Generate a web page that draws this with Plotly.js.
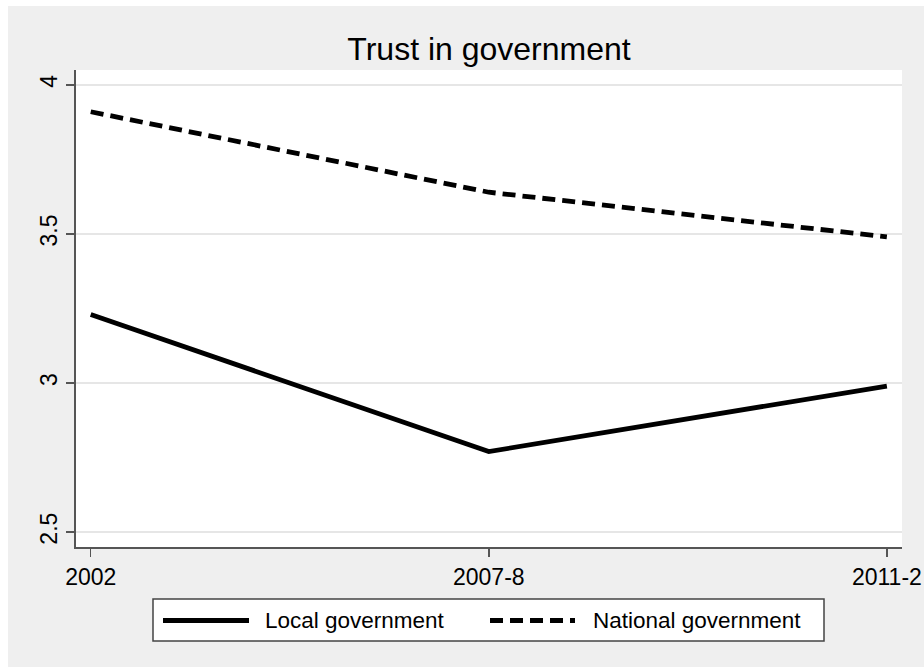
<!DOCTYPE html>
<html>
<head>
<meta charset="utf-8">
<script src="https://cdn.plot.ly/plotly-3.0.1.min.js"></script>
<style>html,body{margin:0;padding:0;background:#fff;}#chart{width:924px;height:671px;}</style>
</head>
<body>
<div id="chart"></div>
<script>
// ---- data ----
const periods = ["2002", "2007-8", "2011-2"];
const localGov = [3.23, 2.77, 2.99];
const nationalGov = [3.91, 3.64, 3.49];
const seriesNames = ["Local government", "National government"];
const yTickVals = [2.5, 3, 3.5, 4];
const yTickText = ["2.5", "3", "3.5", "4"];
const chartTitle = "Trust in government";

// ---- layout geometry (pixels) ----
const W = 924, H = 671;
const L = 76, R = 902, T = 70, B = 547;
const px2x = p => (p - L) / (R - L);
const px2y = p => (B - p) / (B - T);
const FONT = "Liberation Sans, Arial, Helvetica, sans-serif";
const DASH = "13px,7px";
const LW = 4.8;

const traces = [
  {x: periods, y: localGov, name: seriesNames[0], type: "scatter", mode: "lines",
   line: {color: "#000", width: LW, dash: "solid"}, showlegend: false},
  {x: periods, y: nationalGov, name: seriesNames[1], type: "scatter", mode: "lines",
   line: {color: "#000", width: LW, dash: DASH}, showlegend: false}
];

const legY = 620.5;
const shapes = [
  // white outer strips
  {type: "rect", xref: "paper", yref: "paper", layer: "below", x0: px2x(-5), x1: px2x(8), y0: px2y(-5), y1: px2y(H + 5), fillcolor: "#fff", line: {width: 0}},
  {type: "rect", xref: "paper", yref: "paper", layer: "below", x0: px2x(-5), x1: px2x(W + 5), y0: px2y(-5), y1: px2y(6), fillcolor: "#fff", line: {width: 0}},
  {type: "rect", xref: "paper", yref: "paper", layer: "below", x0: px2x(-5), x1: px2x(W + 5), y0: px2y(667), y1: px2y(H + 5), fillcolor: "#fff", line: {width: 0}},
  // legend box
  {type: "rect", xref: "paper", yref: "paper", x0: px2x(153), x1: px2x(824), y0: px2y(641), y1: px2y(599), fillcolor: "#fff", line: {color: "#444", width: 1.5}},
  // legend samples
  {type: "line", xref: "paper", yref: "paper", x0: px2x(163), x1: px2x(249), y0: px2y(legY), y1: px2y(legY), line: {color: "#000", width: LW}},
  {type: "line", xref: "paper", yref: "paper", x0: px2x(490), x1: px2x(575), y0: px2y(legY), y1: px2y(legY), line: {color: "#000", width: LW, dash: DASH}}
];

const annotations = [
  {text: seriesNames[0], xref: "paper", yref: "paper", x: px2x(263), y: px2y(legY), xanchor: "left", yanchor: "middle", showarrow: false, font: {family: FONT, size: 22.5, color: "#000"}},
  {text: seriesNames[1], xref: "paper", yref: "paper", x: px2x(591), y: px2y(legY), xanchor: "left", yanchor: "middle", showarrow: false, font: {family: FONT, size: 22.5, color: "#000"}}
];

const layout = {
  width: W, height: H, autosize: false,
  margin: {l: L, r: W - R, t: T, b: H - B, pad: 0},
  paper_bgcolor: "#efefef", plot_bgcolor: "#fff",
  font: {family: FONT, size: 23, color: "#000"},
  title: {text: chartTitle, font: {family: FONT, size: 32, color: "#000"},
          x: 489 / W, xref: "container", xanchor: "center",
          y: 1 - 48.8 / H, yref: "container", yanchor: "middle"},
  xaxis: {type: "category", range: [-0.037, 2.038], showgrid: false, zeroline: false,
          showline: true, linecolor: "#555", linewidth: 2,
          ticks: "outside", ticklen: 8, tickwidth: 1.5, tickcolor: "#555",
          tickfont: {family: FONT, size: 23, color: "#000"}, fixedrange: true},
  yaxis: {range: [2.45, 4.05], tickvals: yTickVals, ticktext: yTickText, tickangle: -90,
          showgrid: true, gridcolor: "#e6e6e6", gridwidth: 1.3, zeroline: false,
          showline: true, linecolor: "#555", linewidth: 2,
          ticks: "outside", ticklen: 8, tickwidth: 1.5, tickcolor: "#555",
          tickfont: {family: FONT, size: 23, color: "#000"}, fixedrange: true},
  shapes: shapes,
  annotations: annotations,
  showlegend: false
};

Plotly.newPlot("chart", traces, layout, {displayModeBar: false, staticPlot: true});
</script>
</body>
</html>
